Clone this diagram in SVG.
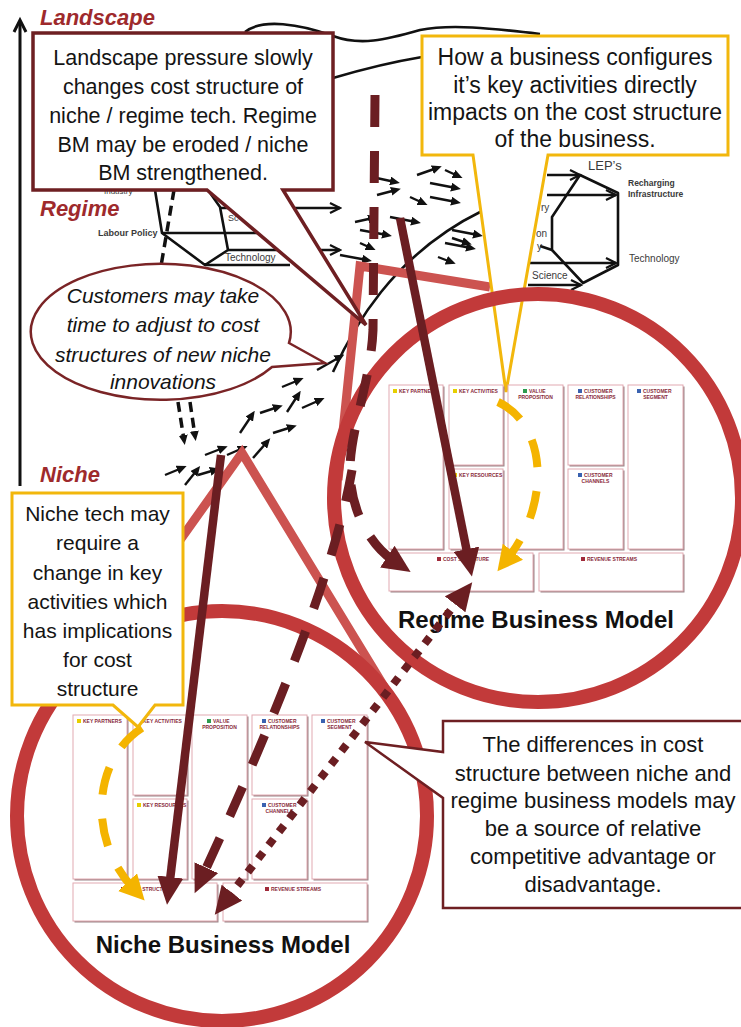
<svg xmlns="http://www.w3.org/2000/svg" width="741" height="1027" viewBox="0 0 741 1027">
<defs>
<style>
.lvl{font-family:"Liberation Sans",Arial,sans-serif;font-weight:bold;font-style:italic;font-size:22px;fill:#9e2a2c}
.tx{font-family:"Liberation Sans",Arial,sans-serif;fill:#141414;text-anchor:middle}
.sm{font-family:"Liberation Sans",Arial,sans-serif;fill:#3a3a3a}
.blk{fill:none;stroke:#111;stroke-width:2.6;stroke-linejoin:round}
.oa{fill:none;stroke:#111;stroke-width:2.6;marker-end:url(#oa)}
.sa path{fill:none;stroke:#111;stroke-width:2.4;marker-end:url(#sa)}
.bd{fill:none;stroke:#111;stroke-width:3.5;stroke-dasharray:10 6}
.lr{fill:none;stroke:#cc5350;stroke-width:9}
.ring{fill:none;stroke:#c23a3a;stroke-width:14}
.mr{fill:none;stroke:#6b1e22;stroke-width:8.5}
.md{fill:none;stroke:#6b1e22;stroke-width:9;stroke-dasharray:32 24}
.yl{fill:none;stroke:#f4b400;stroke-width:8;stroke-dasharray:28 24}
.s{fill:#9a8487}
.b{fill:#fff;stroke:#e2aab2;stroke-width:1}
.bl{font-family:"Liberation Sans",Arial,sans-serif;font-weight:bold;font-size:5px;fill:#8a2a3a}
.bm{font-family:"Liberation Sans",Arial,sans-serif;font-weight:bold;font-size:24px;fill:#111;text-anchor:middle}
.mbox{fill:#fff;stroke:#6e1f22;stroke-width:3.5}
.ybox{fill:#fff;stroke:#f2b70c;stroke-width:3}
</style>
<marker id="sa" markerUnits="userSpaceOnUse" markerWidth="10" markerHeight="9" refX="5" refY="4.5" orient="auto"><path d="M0,0 L10,4.5 L0,9 Z" fill="#111"/></marker>
<marker id="oa" markerUnits="userSpaceOnUse" markerWidth="13" markerHeight="13" refX="11" refY="6.5" orient="auto"><path d="M1,1.5 L11,6.5 L1,11.5" fill="none" stroke="#111" stroke-width="2.2"/></marker>
<marker id="mh" markerUnits="userSpaceOnUse" markerWidth="30" markerHeight="26" refX="8" refY="13" orient="auto"><path d="M0,0 L28,13 L0,26 Z" fill="#6b1e22"/></marker>
<marker id="mh2" markerUnits="userSpaceOnUse" markerWidth="30" markerHeight="26" refX="8" refY="13" orient="auto-start-reverse"><path d="M0,0 L28,13 L0,26 Z" fill="#6b1e22"/></marker>
<marker id="yh" markerUnits="userSpaceOnUse" markerWidth="26" markerHeight="26" refX="8" refY="13" orient="auto"><path d="M0,0 L25,13 L0,26 Z" fill="#f4b400"/></marker>
<g id="bmcT">
<rect class="s" x="1.5" y="1.5" width="54" height="164"/><rect class="b" x="0" y="0" width="54" height="164"/>
<rect class="s" x="61.5" y="1.5" width="54" height="80"/><rect class="b" x="60" y="0" width="54" height="80"/>
<rect class="s" x="61.5" y="85.5" width="54" height="80"/><rect class="b" x="60" y="84" width="54" height="80"/>
<rect class="s" x="120.5" y="1.5" width="55" height="164"/><rect class="b" x="119" y="0" width="55" height="164"/>
<rect class="s" x="180.5" y="1.5" width="55" height="80"/><rect class="b" x="179" y="0" width="55" height="80"/>
<rect class="s" x="180.5" y="85.5" width="55" height="80"/><rect class="b" x="179" y="84" width="55" height="80"/>
<rect class="s" x="240.5" y="1.5" width="55" height="164"/><rect class="b" x="239" y="0" width="55" height="164"/>
<rect class="s" x="1.5" y="169.5" width="144" height="38"/><rect class="b" x="0" y="168" width="144" height="38"/>
<rect class="s" x="151.5" y="169.5" width="144" height="38"/><rect class="b" x="150" y="168" width="144" height="38"/>
<rect x="4" y="4" width="4" height="4" fill="#e6cf00"/><text class="bl" x="10" y="8">KEY PARTNERS</text>
<rect x="64" y="4" width="4" height="4" fill="#e6cf00"/><text class="bl" x="70" y="8">KEY ACTIVITIES</text>
<rect x="64" y="88" width="4" height="4" fill="#e6cf00"/><text class="bl" x="70" y="92">KEY RESOURCES</text>
<rect x="134" y="4" width="4" height="4" fill="#2e9b4e"/><text class="bl" x="140" y="8">VALUE</text><text class="bl" x="146.5" y="14" text-anchor="middle">PROPOSITION</text>
<rect x="189" y="4" width="4" height="4" fill="#3a62b0"/><text class="bl" x="195" y="8">CUSTOMER</text><text class="bl" x="206.5" y="14" text-anchor="middle">RELATIONSHIPS</text>
<rect x="189" y="88" width="4" height="4" fill="#3a62b0"/><text class="bl" x="195" y="92">CUSTOMER</text><text class="bl" x="206.5" y="98" text-anchor="middle">CHANNELS</text>
<rect x="248" y="4" width="4" height="4" fill="#3a62b0"/><text class="bl" x="254" y="8">CUSTOMER</text><text class="bl" x="266.5" y="14" text-anchor="middle">SEGMENT</text>
<rect x="48" y="172" width="4" height="4" fill="#a02a3a"/><text class="bl" x="54" y="176">COST STRUCTURE</text>
<rect x="192" y="172" width="4" height="4" fill="#a02a3a"/><text class="bl" x="198" y="176">REVENUE STREAMS</text>
</g>
</defs>
<rect width="741" height="1027" fill="#fff"/>

<g id="axis">
<path d="M20,486 V21" stroke="#111" stroke-width="3" fill="none"/>
<path d="M14,32 L20,20 L26,32" fill="none" stroke="#111" stroke-width="3"/>
<text class="lvl" x="40" y="25">Landscape</text>
<text class="lvl" x="40" y="216">Regime</text>
<text class="lvl" x="40" y="482">Niche</text>
</g>

<g id="landscape-curves">
<path class="blk" d="M245,32 C262,18 300,24 333,36 C360,46 385,40 420,30 C450,24 490,28 540,34"/>
<path class="blk" d="M333,78 C360,70 392,62 422,57"/>
</g>

<g id="regime-left">
<path class="blk" d="M155,190 L208,190 L220,207 L228,250 L205,265 L162,233 Z"/>
<path class="blk" d="M162,233 H262"/>
<path class="blk" d="M205,265 H290"/>
<path class="oa" d="M220,208 H340"/>
<path class="oa" d="M228,250 H340"/>
<text class="sm" x="104" y="193.5" font-size="8">Industry</text>
<text class="sm" x="98" y="236" font-size="9" font-weight="bold">Labour Policy</text>
<text class="sm" x="228" y="221" font-size="9">Sc</text>
<text class="sm" x="225" y="261" font-size="10">Technology</text>
<path class="bd" d="M174,190 L161,266"/>
</g>

<g id="regime-right">
<path class="oa" d="M547,175 H580"/>
<path class="oa" d="M547,195 H616"/>
<path class="blk" d="M580,175 L618,193 L618,265 L583,283 L552,250 L552,217 Z"/>
<path class="oa" d="M527,263 H616"/>
<path class="oa" d="M528,285 H581"/>
<path class="blk" d="M540,246 L552,250"/>
<text class="sm" x="588" y="170" font-size="13">LEP’s</text>
<text class="sm" x="628" y="186" font-size="8.5" font-weight="bold">Recharging</text>
<text class="sm" x="628" y="197" font-size="8.5" font-weight="bold">Infrastructure</text>
<text class="sm" x="629" y="262" font-size="10">Technology</text>
<text class="sm" x="532" y="279" font-size="10">Science</text>
<text class="sm" x="541" y="211" font-size="10">ry</text>
<text class="sm" x="536" y="237" font-size="10">on</text>
<text class="sm" x="537" y="250" font-size="10">y</text>
</g>

<g id="niche-arrows" class="sa">
<path d="M372,177 L395,182"/><path d="M417,175 L437,168"/><path d="M445,170 L458,176"/>
<path d="M430,183 L456,188"/><path d="M377,195 L396,190"/><path d="M410,197 L423,203"/>
<path d="M430,197 L456,202"/><path d="M390,217 L416,222"/><path d="M360,230 L387,235"/>
<path d="M452,230 L478,235"/><path d="M452,238 L467,243"/><path d="M445,243 L471,248"/>
<path d="M438,257 L451,262"/><path d="M355,222 L373,218"/><path d="M360,243 L371,248"/>
<path d="M340,255 L367,260"/><path d="M317,370 L340,357"/><path d="M282,387 L299,380"/>
<path d="M287,412 L298,395"/><path d="M302,408 L320,400"/><path d="M260,413 L278,407"/>
<path d="M240,433 L252,415"/><path d="M273,433 L292,427"/><path d="M253,458 L267,442"/>
<path d="M205,455 L223,448"/><path d="M227,455 L243,448"/><path d="M165,475 L182,468"/>
<path d="M185,485 L197,470"/><path d="M198,475 L215,470"/>
</g>
<path id="s-curve" class="blk" d="M333,372 C352,330 392,255 482,211"/>
<g id="down-dashes">
<path class="bd" d="M178,402 L184,440" marker-end="url(#sa)"/>
<path class="bd" d="M190,402 L195,436" marker-end="url(#sa)"/>
</g>

<g id="red-lines">
<path class="lr" d="M101,651 L242,453 L385,688"/>
<path class="lr" d="M490,287 L360,266 L338,480"/>
</g>

<g id="callout-keyactivities">
<path class="ybox" d="M422,36 H728 V155 H548 L506,392 L473,155 H422 Z"/>
<text class="tx" font-size="23" x="575" y="65">How a business configures</text>
<text class="tx" font-size="23" x="575" y="93">it’s key activities directly</text>
<text class="tx" font-size="23" x="575" y="120">impacts on the cost structure</text>
<text class="tx" font-size="23" x="575" y="147">of the business.</text>
</g>

<g id="regime-circle"><circle class="ring" cx="538" cy="498" r="204"/></g>
<g id="niche-circle"><circle class="ring" cx="222" cy="816" r="205"/></g>

<g id="regime-bmc">
<use href="#bmcT" transform="translate(389,385)"/>
<text class="bm" x="536" y="628">Regime Business Model</text>
</g>
<g id="niche-bmc">
<use href="#bmcT" transform="translate(73,715)"/>
<text class="bm" x="223" y="953">Niche Business Model</text>
</g>

<g id="connectors">
<path class="md" d="M375,95 L373,330 C371,380 350,430 350,470 C350,510 370,545 394,561" marker-end="url(#mh)"/>
<path class="md" d="M352,470 Q330,600 203,875" marker-end="url(#mh)"/>
<path class="mr" d="M400,218 L468,557" marker-end="url(#mh)"/>
<path class="mr" d="M221,455 L169.4,885" marker-end="url(#mh)"/>
<path fill="none" stroke="#6b1e22" stroke-width="8" stroke-dasharray="8 9" d="M227,899 L460,598" marker-start="url(#mh2)" marker-end="url(#mh2)"/>
<path class="yl" d="M498,402 C548,425 550,505 508,558" marker-end="url(#yh)"/>
<path class="yl" d="M142,728 C92,760 88,840 133,888" marker-end="url(#yh)"/>
</g>

<g id="callout-landscape">
<path class="mbox" d="M33,33 H333 V190 H283 L366,325 L207,190 H33 Z"/>
<text class="tx" font-size="21.5" x="183" y="65">Landscape pressure slowly</text>
<text class="tx" font-size="21.5" x="183" y="94">changes cost structure of</text>
<text class="tx" font-size="21.5" x="183" y="123">niche / regime tech. Regime</text>
<text class="tx" font-size="21.5" x="183" y="152">BM may be eroded / niche</text>
<text class="tx" font-size="21.5" x="183" y="180">BM strengthened.</text>
</g>

<g id="callout-customers">
<path fill="#fff" stroke="#7a2426" stroke-width="2.5" d="M289,343 L325,363 L272,367 A130,68 0 1 1 289,343 Z"/>
<text class="tx" font-size="21" font-style="italic" x="163" y="303">Customers may take</text>
<text class="tx" font-size="21" font-style="italic" x="163" y="332">time to adjust to cost</text>
<text class="tx" font-size="21" font-style="italic" x="163" y="362">structures of new niche</text>
<text class="tx" font-size="21" font-style="italic" x="163" y="389">innovations</text>
</g>

<g id="callout-niche">
<path class="ybox" d="M12,493 H183 V705 H155 L138,727 L113,705 H12 Z"/>
<text class="tx" font-size="21" x="97.5" y="521">Niche tech may</text>
<text class="tx" font-size="21" x="97.5" y="550">require a</text>
<text class="tx" font-size="21" x="97.5" y="580">change in key</text>
<text class="tx" font-size="21" x="97.5" y="609">activities which</text>
<text class="tx" font-size="21" x="97.5" y="638">has implications</text>
<text class="tx" font-size="21" x="97.5" y="667">for cost</text>
<text class="tx" font-size="21" x="97.5" y="696">structure</text>
</g>

<g id="callout-differences">
<path fill="#fff" stroke="#6e1f22" stroke-width="2.5" d="M443,721 H750 V908 H443 V798 L365,742 L443,752 Z"/>
<text class="tx" font-size="22" x="593" y="752">The differences in cost</text>
<text class="tx" font-size="22" x="593" y="781">structure between niche and</text>
<text class="tx" font-size="22" x="593" y="808">regime business models may</text>
<text class="tx" font-size="22" x="593" y="836">be a source of relative</text>
<text class="tx" font-size="22" x="593" y="864">competitive advantage or</text>
<text class="tx" font-size="22" x="593" y="892">disadvantage.</text>
</g>
</svg>
